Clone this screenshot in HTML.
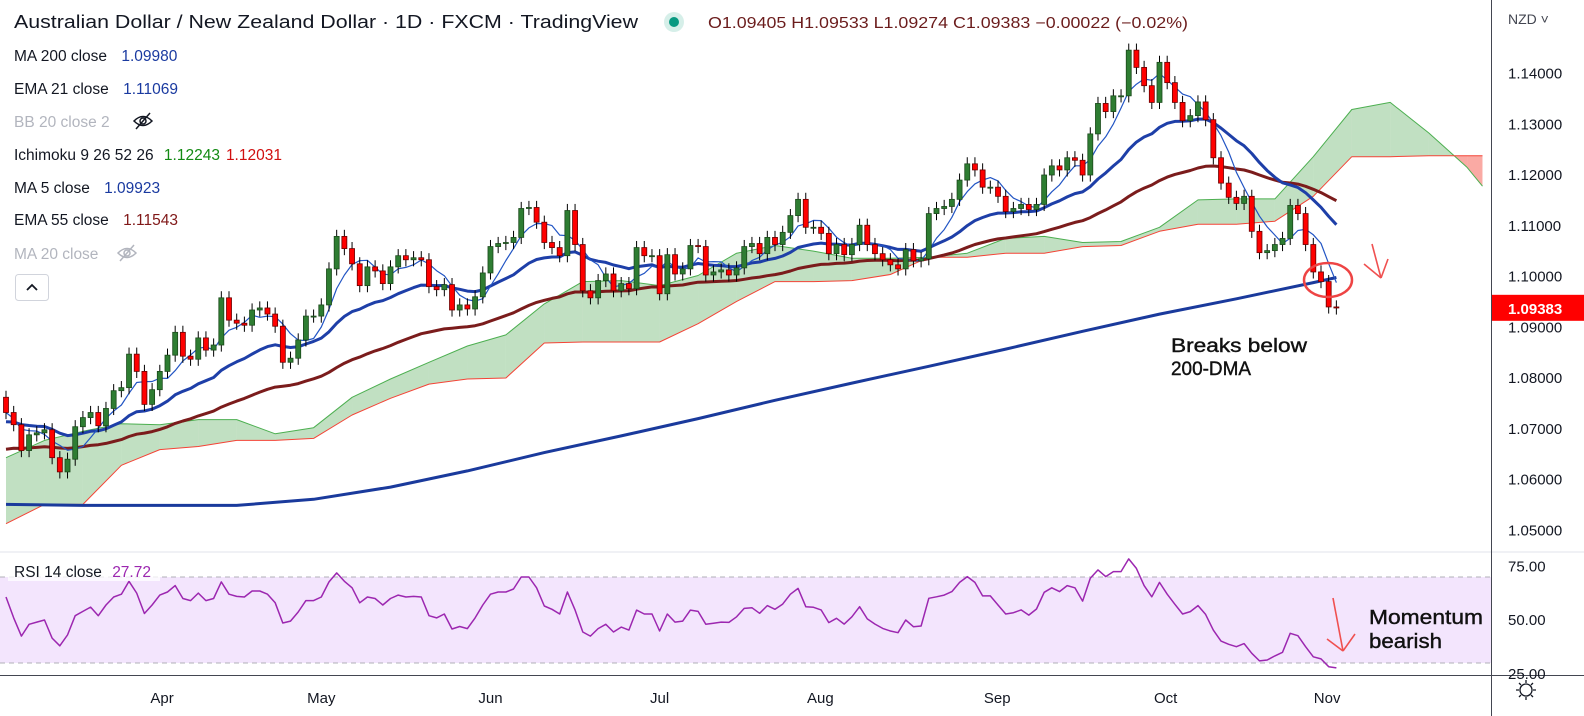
<!DOCTYPE html>
<html><head><meta charset="utf-8"><style>
html,body{margin:0;padding:0;background:#fff;}
svg{display:block;font-family:"Liberation Sans",sans-serif;}
</style></head><body>
<svg id="chart" width="1584" height="716" viewBox="0 0 1584 716" xmlns="http://www.w3.org/2000/svg">
<defs>
<clipPath id="mainClip"><rect x="0" y="0" width="1491" height="551"/></clipPath>
<clipPath id="rsiClip"><rect x="0" y="553" width="1491" height="122"/></clipPath>
</defs>
<rect x="0" y="0" width="1584" height="716" fill="#ffffff"/>
<g id="cloud" clip-path="url(#mainClip)"></g>
<g id="lines" clip-path="url(#mainClip)"></g>
<g id="candles" clip-path="url(#mainClip)"></g>
<g id="rsiPane"></g>
<line x1="0" y1="552" x2="1491" y2="552" stroke="#e0e3eb" stroke-width="1"/>
<line x1="1491" y1="552" x2="1584" y2="552" stroke="#e0e3eb" stroke-width="1"/>
<line x1="1491.5" y1="0" x2="1491.5" y2="716" stroke="#434651" stroke-width="1"/>
<line x1="0" y1="675.5" x2="1584" y2="675.5" stroke="#434651" stroke-width="1"/>
<g id="priceAxis"></g>
<g id="rsiAxis"></g>
<g id="timeAxis"></g>
<text x="1508" y="24" font-size="14" fill="#434651">NZD ˅</text>
<g transform="translate(1526,690)">
<circle cx="0" cy="0" r="6" fill="none" stroke="#131722" stroke-width="1.3"/>
<path d="M0-10V-7M0 7V10M-10 0H-7M7 0H10M-7-7L-5-5M5 5L7 7M-7 7L-5 5M5-5L7-7" stroke="#131722" stroke-width="1.3"/>
</g>

<!-- Legend -->
<text x="14" y="28" font-size="18" fill="#131722" textLength="624" lengthAdjust="spacingAndGlyphs">Australian Dollar / New Zealand Dollar · 1D · FXCM · TradingView</text>
<circle cx="674" cy="22" r="10" fill="#d6efe9"/>
<circle cx="674" cy="22" r="5" fill="#089981"/>
<text x="708" y="28" font-size="15.5" fill="#6b1c1c" textLength="480" lengthAdjust="spacingAndGlyphs">O1.09405 H1.09533 L1.09274 C1.09383 −0.00022 (−0.02%)</text>
<g font-size="15.5">
<text x="14" y="61" fill="#131722">MA 200 close <tspan dx="10" fill="#1a3aa0">1.09980</tspan></text>
<text x="14" y="94" fill="#131722">EMA 21 close <tspan dx="10" fill="#1a3aa0">1.11069</tspan></text>
<text x="14" y="127" fill="#b2b5be">BB 20 close 2</text>
<text x="14" y="160" fill="#131722">Ichimoku 9 26 52 26 <tspan dx="6" fill="#138a13">1.12243</tspan><tspan dx="6" fill="#d00f0f">1.12031</tspan></text>
<text x="14" y="193" fill="#131722">MA 5 close <tspan dx="10" fill="#1a3aa0">1.09923</tspan></text>
<text x="14" y="225" fill="#131722">EMA 55 close <tspan dx="10" fill="#801818">1.11543</tspan></text>
<text x="14" y="259" fill="#b2b5be">MA 20 close</text>
</g>
<g transform="translate(143,121)" fill="none" stroke="#131722" stroke-width="1.5">
<path d="M-9 0Q0-9 9 0Q0 9-9 0Z"/><circle cx="0" cy="0" r="3"/><path d="M-7 8L7-8"/>
</g>
<g transform="translate(127,253)" fill="none" stroke="#b2b5be" stroke-width="1.5">
<path d="M-9 0Q0-9 9 0Q0 9-9 0Z"/><circle cx="0" cy="0" r="3"/><path d="M-7 8L7-8"/>
</g>
<rect x="15.5" y="274.5" width="33" height="26" rx="3" fill="#fff" stroke="#d1d4dc"/>
<path d="M27 290L32 285L37 290" fill="none" stroke="#131722" stroke-width="1.8"/>

<!-- annotations -->
<ellipse cx="1328" cy="280" rx="24" ry="17" fill="none" stroke="#ee4444" stroke-width="2.5"/>
<g stroke="#f05050" stroke-width="1.6" fill="none">
<line x1="1372" y1="244" x2="1381" y2="278"/><line x1="1381" y1="278" x2="1364" y2="264"/><line x1="1381" y1="278" x2="1388" y2="259"/>
</g>
<text x="1171" y="352" font-size="19" fill="#111" textLength="136" lengthAdjust="spacingAndGlyphs" stroke="#111" stroke-width="0.4">Breaks below</text>
<text x="1171" y="375" font-size="19" fill="#111" textLength="80" lengthAdjust="spacingAndGlyphs" stroke="#111" stroke-width="0.4">200-DMA</text>
<g stroke="#f05050" stroke-width="1.6" fill="none">
<line x1="1333" y1="598" x2="1343" y2="651"/><line x1="1343" y1="651" x2="1327" y2="639"/><line x1="1343" y1="651" x2="1355" y2="634"/>
</g>
<text x="1369" y="624" font-size="20" fill="#111" textLength="114" lengthAdjust="spacingAndGlyphs" stroke="#111" stroke-width="0.4">Momentum</text>
<text x="1369" y="648" font-size="20" fill="#111" textLength="73" lengthAdjust="spacingAndGlyphs" stroke="#111" stroke-width="0.4">bearish</text>
<g id="badge"></g>
</svg>
<script>
const closes=[1.0732,1.0708,1.0657,1.0688,1.0692,1.0698,1.0643,1.0615,1.0640,1.0704,
1.0722,1.0732,1.0706,1.0740,1.0775,1.0781,1.0847,1.0813,1.0748,1.0777,
1.0813,1.0845,1.0890,1.0843,1.0837,1.0879,1.0855,1.0865,1.0958,1.0914,
1.0908,1.0904,1.0934,1.0938,1.0926,1.0902,1.0831,1.0839,1.0875,1.0922,
1.0922,1.0944,1.1015,1.1079,1.1055,1.1025,1.0982,1.1019,1.1011,1.0986,
1.1019,1.1041,1.1033,1.1037,1.1033,1.0980,1.0974,1.0984,1.0934,1.0944,
1.0936,1.0960,1.1007,1.1059,1.1065,1.1067,1.1077,1.1134,1.1136,1.1107,
1.1067,1.1057,1.1041,1.1130,1.1063,1.0972,1.0958,1.0992,1.1005,1.0972,
1.0986,1.0976,1.1057,1.1041,1.1041,1.0966,1.1043,1.1005,1.1015,1.1061,
1.1059,1.1003,1.1009,1.1013,1.1003,1.1017,1.1059,1.1065,1.1045,1.1077,
1.1063,1.1087,1.1120,1.1152,1.1097,1.1097,1.1085,1.1045,1.1063,1.1043,
1.1063,1.1101,1.1063,1.1045,1.1033,1.1023,1.1015,1.1053,1.1031,1.1035,
1.1124,1.1134,1.1138,1.1152,1.1190,1.1222,1.1210,1.1176,1.1176,1.1158,
1.1128,1.1134,1.1142,1.1132,1.1142,1.1200,1.1218,1.1210,1.1234,1.1229,
1.1200,1.1281,1.1341,1.1325,1.1356,1.1356,1.1446,1.1412,1.1376,1.1343,
1.1422,1.1382,1.1343,1.1307,1.1317,1.1344,1.1309,1.1234,1.1184,1.1156,
1.1144,1.1158,1.1089,1.1047,1.1051,1.1063,1.1075,1.1140,1.1124,1.1063,
1.1009,1.0990,1.0940,1.0938];
const firstOpen=1.0762;
const ema21Seed=1.0712;
const ema55Seed=1.0657;
const ma200Idx=[0,10,20,30,40,50,60,70,80,90,100,110,120,130,140,150,160,170,173];
const ma200Vals=[1.0551,1.0549,1.0549,1.0549,1.0561,1.0585,1.0617,1.0653,1.0686,1.0720,1.0756,1.0790,1.0823,1.0857,1.0892,1.0926,1.0956,1.0988,1.0998];
const cloudIdx=[0,5,10,15,20,25,30,35,40,45,50,55,60,65,70,75,80,85,90,95,100,105,110,115,120,125,130,135,140,145,150,155,160,165,170,175,180,185,190,192];
const spanA=[1.0643,1.0677,1.0695,1.0710,1.0708,1.0718,1.0718,1.0690,1.0702,1.0762,
1.0798,1.0831,1.0863,1.0885,1.0946,1.0990,1.0992,1.0982,1.1002,1.1046,
1.1061,1.1050,1.1036,1.1036,1.1038,1.1046,1.1075,1.1079,1.1067,1.1069,
1.1097,1.1151,1.1153,1.1153,1.1236,1.1329,1.1343,1.1283,1.1215,1.1178];
const spanB=[1.0513,1.0551,1.0551,1.0628,1.0659,1.0665,1.0677,1.0677,1.0681,1.0727,
1.0760,1.0788,1.0798,1.0800,1.0869,1.0871,1.0871,1.0871,1.0907,1.0951,
1.0990,1.0990,1.0992,1.1004,1.1038,1.1038,1.1046,1.1046,1.1059,1.1061,
1.1089,1.1103,1.1103,1.1109,1.1158,1.1236,1.1236,1.1238,1.1238,1.1238];
const rsiVals=[60.7,51,42.5,48,49,50,41.6,38,43,52,
54,56,52,57,60.7,62,68,62.5,53,57,
61.6,63,66,60,59,62.5,59,60,67.7,62,
61,60.7,63.5,63.5,62,58,48.6,49.5,53.7,59,
59,60.7,67.7,71.9,68,65,58,60.7,60,57,
60,61.6,60.7,61,60.7,52,51,52.8,45.8,47,
46,51,57,62,63,63,64.4,70,70,65,
56.5,55,52.8,63,54.6,44.4,42.5,46,48,44.4,
46.7,45.3,54.6,52.8,52.8,44.9,52.8,49,49.5,54.6,
54,48,48.5,49,48.9,51.5,55.4,55.7,53.1,56.7,
55,57.4,62,64.7,56.2,55.9,54.7,48.8,50.8,48.1,
51.5,56.2,50.5,48.1,46.1,44.9,44.1,50,46.9,47.2,
60.1,60.8,61.6,63.2,67.5,70.2,67.5,61.2,61.2,57,
52.8,53.4,54.7,52.3,55.1,62.9,65,63.2,66,65,
58.8,69.4,73.3,70.2,72.5,72.5,78.4,74,66,60.8,
67.5,62,57.3,52.8,53.9,56.7,52.6,45.3,40.2,38.7,
37.6,39,34.5,31,31.4,33.3,35,43.8,42.7,37.6,
32.9,31.9,28.3,27.72];
const priceTicks=[1.14,1.13,1.12,1.11,1.10,1.09,1.08,1.07,1.06,1.05];
const priceTickLabels=["1.14000","1.13000","1.12000","1.11000","1.10000","1.09000","1.08000","1.07000","1.06000","1.05000"];
const rsiTicks=[75,50,25];
const rsiTickLabels=["75.00","50.00","25.00"];
const rsiBands=[70,30];
const monthLabels=["Apr","May","Jun","Jul","Aug","Sep","Oct","Nov"];
const monthIdx=[20.3,41,63,85,105.9,128.9,150.8,171.8];
const lastPrice=1.09383;

const NS="http://www.w3.org/2000/svg";
function xOf(i){return 6+7.69*i;}
function yP(p){return 73.5+(1.14-p)*5075;}
function yR(v){return 577+(70-v)*2.15;}
function mk(tag,attrs,parent){const e=document.createElementNS(NS,tag);for(const k in attrs)e.setAttribute(k,attrs[k]);parent.appendChild(e);return e;}
const gCloud=document.getElementById('cloud'),gLines=document.getElementById('lines'),gC=document.getElementById('candles');
const gR=document.getElementById('rsiPane'),gPA=document.getElementById('priceAxis'),gRA=document.getElementById('rsiAxis'),gT=document.getElementById('timeAxis');

for(let k=0;k<cloudIdx.length-1;k++){
  const x1=xOf(cloudIdx[k]),x2=xOf(cloudIdx[k+1]);
  const a1=spanA[k],a2=spanA[k+1],b1=spanB[k],b2=spanB[k+1];
  const d1=a1-b1,d2=a2-b2;
  const seg=(xa,ya1,yb1,xb,ya2,yb2,col)=>{
    const p=mk('polygon',{points:`${xa},${ya1} ${xb},${ya2} ${xb},${yb2} ${xa},${yb1}`,fill:col},gCloud);
    
    
  };
  const G='rgba(67,160,71,0.33)',R='rgba(244,67,54,0.45)';
  if(d1*d2>=0){seg(x1,yP(a1),yP(b1),x2,yP(a2),yP(b2),(d1+d2)>=0?G:R);}
  else{const t=d1/(d1-d2),xm=x1+(x2-x1)*t,pm=a1+(a2-a1)*t;
    seg(x1,yP(a1),yP(b1),xm,yP(pm),yP(pm),d1>0?G:R);
    seg(xm,yP(pm),yP(pm),x2,yP(a2),yP(b2),d2>0?G:R);}
}
function poly(idx,vals,col,w,name,g,yf){
  const pts=idx.map((i,k)=>xOf(i).toFixed(1)+','+yf(vals[k]).toFixed(1)).join(' ');
  const e=mk('polyline',{points:pts,fill:'none',stroke:col,'stroke-width':w,'stroke-linejoin':'round'},g);
  
  
  return e;
}
poly(cloudIdx,spanA,'#4caf50',1,'ichimoku-span-a',gCloud,yP);
poly(cloudIdx,spanB,'#f44336',1,'ichimoku-span-b',gCloud,yP);

const idxAll=closes.map((_,i)=>i);
const ema21=[],ema55=[],ma5=[];
let e21=ema21Seed,e55=ema55Seed;
closes.forEach((c,i)=>{e21=e21+(c-e21)*2/22;e55=e55+(c-e55)*2/56;ema21.push(e21);ema55.push(e55);
  const s=closes.slice(Math.max(0,i-4),i+1);ma5.push(s.reduce((a,b)=>a+b,0)/s.length);});
poly(ma200Idx,ma200Vals,'#1a3a9c',3,'ma200-line',gLines,yP);
poly(idxAll,ema55,'#7b1c1c',3,'ema55-line',gLines,yP);
poly(idxAll,ema21,'#1e3fa8',3,'ema21-line',gLines,yP);
poly(idxAll,ma5,'#2255c4',1.2,'ma5-line',gLines,yP);

const wickPad=0.0013;
closes.forEach((c,i)=>{
  const o=i===0?firstOpen:closes[i-1];
  const up=c>=o,x=xOf(i);
  const top=yP(Math.max(o,c)),bot=yP(Math.min(o,c));
  const w=mk('line',{x1:x,x2:x,y1:yP(Math.max(o,c)+wickPad),y2:yP(Math.min(o,c)-wickPad),stroke:'#000','stroke-width':1},gC);
  
  
  const b=mk('rect',{x:x-2.5,y:top,width:5,height:Math.max(1,bot-top),fill:up?'#2e7d32':'#ff0000',stroke:up?'#1b4a1b':'#6a0000','stroke-width':0.8},gC);
  
  
});

const band=mk('rect',{x:0,y:yR(rsiBands[0]),width:1491,height:yR(rsiBands[1])-yR(rsiBands[0]),fill:'#f3e5fd'},gR);


rsiBands.forEach(v=>{const l=mk('line',{x1:0,x2:1491,y1:yR(v),y2:yR(v),stroke:'#b0b0b8','stroke-dasharray':'5,4','stroke-width':1},gR);
  
  });
const rl=poly(idxAll,rsiVals,'#9c27b0',1.5,'rsi-line',gR,yR);
rl.setAttribute('clip-path','url(#rsiClip)');
const rbox=mk('rect',{x:8,y:561,width:152,height:20,fill:'rgba(255,255,255,0.75)'},gR);


const rt=mk('text',{x:14,y:577,'font-size':15.5,fill:'#131722'},gR);


rt.innerHTML='RSI 14 close <tspan dx="6" fill="#9c27b0">'+rsiVals[rsiVals.length-1].toFixed(2)+'</tspan>';

priceTicks.forEach((p,k)=>{const t=mk('text',{x:1508,y:yP(p)+5,'font-size':15,fill:'#131722'},gPA);t.textContent=priceTickLabels[k];
  
  });
rsiTicks.forEach((v,k)=>{const t=mk('text',{x:1508,y:yR(v)+5,'font-size':15,fill:'#131722'},gRA);t.textContent=rsiTickLabels[k];
  
  });
monthLabels.forEach((m,k)=>{const t=mk('text',{x:xOf(monthIdx[k]),y:703,'font-size':15,fill:'#131722','text-anchor':'middle'},gT);t.textContent=m;
  
  });
const gB=document.getElementById('badge');
const by=yP(lastPrice);
const br=mk('rect',{x:1492,y:by-13,width:92,height:26,fill:'#ff0000'},gB);


const bt=mk('text',{x:1508,y:by+6,'font-size':15,'font-weight':'bold',fill:'#fff'},gB);
bt.textContent=lastPrice.toFixed(5);


</script>
</body></html>
